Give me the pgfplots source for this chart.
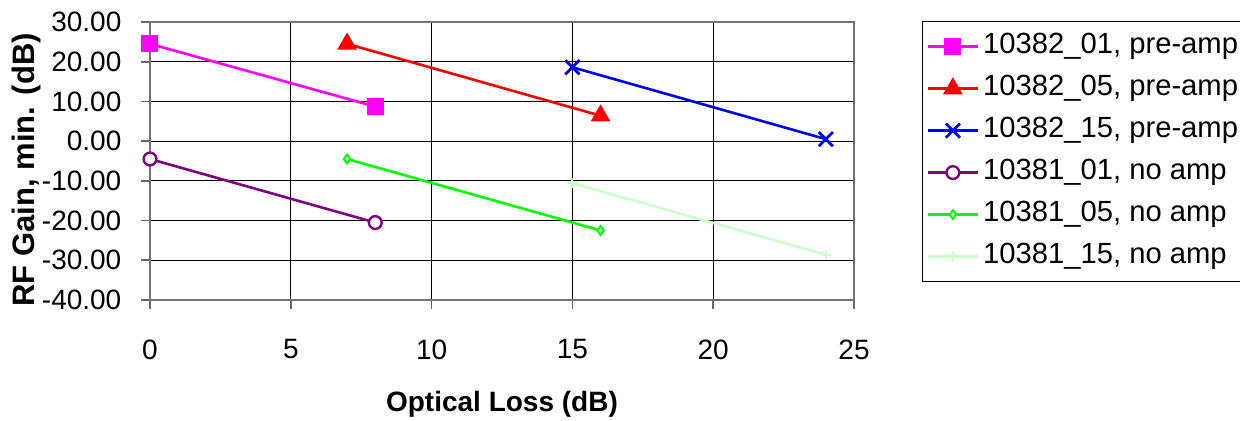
\documentclass[border=0pt]{standalone}
\usepackage{fontspec}
\setmainfont{Liberation Sans}
\usepackage{pgfplots}
\pgfplotsset{compat=1.18}

\definecolor{cpink}{RGB}{255,0,255}
\definecolor{cred}{RGB}{255,0,0}
\definecolor{cblue}{RGB}{0,0,255}
\definecolor{cpurple}{RGB}{128,0,128}
\definecolor{cgreen}{RGB}{0,255,0}
\definecolor{clgreen}{RGB}{204,255,204}

\begin{document}
\begin{tikzpicture}
\begin{axis}[
    scale only axis,
    width=352pt, height=139pt,
    xmin=0, xmax=25,
    ymin=-40, ymax=30,
    xtick={0,5,10,15,20,25},
    ytick={-40,-30,-20,-10,0,10,20,30},
    tick pos=left,
    /pgf/number format/assume math mode=true,
    yticklabel style={/pgf/number format/fixed, /pgf/number format/fixed zerofill,
        /pgf/number format/precision=2, xshift=-6.3pt},
    ticklabel style={font=\fontsize{14}{16}\selectfont},
    xticklabel style={yshift=-11.8pt},
    tick align=outside,
    major tick length=4.5pt,
    tick style={black!60, line width=0.8pt},
    axis line style={black!55, line width=1pt},
    grid=major,
    grid style={black, line width=0.5pt},
    xlabel={\bfseries Optical Loss (dB)},
    ylabel={\bfseries RF Gain, min. (dB)},
    xlabel style={font=\fontsize{14}{16}\selectfont, at={(axis description cs:0.5,0)}, anchor=base, yshift=-56pt},
    ylabel style={font=\fontsize{15.5}{18}\selectfont, at={(axis description cs:-0.175,0.468)}, anchor=center},
    legend style={at={(axis description cs:1.0966,1.0036)}, anchor=north west,
        font=\fontsize{14.6}{16}\selectfont, draw=black, line width=0.6pt,
        inner xsep=2pt, inner ysep=2pt, row sep=0pt,
        nodes={text height=10.5pt, text depth=3.5pt, inner ysep=3.5pt}},
    legend cell align=left,
    legend image code/.code={\draw[mark repeat=2, mark phase=2] plot coordinates {(0pt,0pt) (12.5pt,0pt) (25pt,0pt)};},
    every axis plot/.append style={line width=1.3pt},
]
\addplot[color=cpink, mark=square*, mark size=3.6pt, mark options={solid, fill=cpink}]
    coordinates {(0,24.5) (8,8.7)};
\addlegendentry{10382\_01, pre-amp}
\addplot[color=cred, mark=triangle*, mark size=4.4pt, mark options={solid, fill=cred}]
    coordinates {(7,24.5) (16,6.4)};
\addlegendentry{10382\_05, pre-amp}
\addplot[color=cblue, mark=x, mark size=5pt, mark options={solid, line width=1.4pt}]
    coordinates {(15,18.6) (24,0.5)};
\addlegendentry{10382\_15, pre-amp}
\addplot[color=cpurple, mark=*, mark size=3.2pt, mark options={solid, fill=white, line width=1.2pt}]
    coordinates {(0,-4.5) (8,-20.5)};
\addlegendentry{10381\_01, no amp}
\addplot[color=cgreen, mark=diamond*, mark size=2.2pt, mark options={solid, fill=white, line width=1pt}]
    coordinates {(7,-4.5) (16,-22.5)};
\addlegendentry{10381\_05, no amp}
\addplot[color=clgreen, mark=+, mark size=2.6pt, mark options={solid, line width=1pt}]
    coordinates {(15,-10.6) (24,-28.6)};
\addlegendentry{10381\_15, no amp}
\end{axis}
\pgfresetboundingbox
\useasboundingbox (-75pt,-60.5pt) rectangle (545pt,150pt);
\end{tikzpicture}
\end{document}
